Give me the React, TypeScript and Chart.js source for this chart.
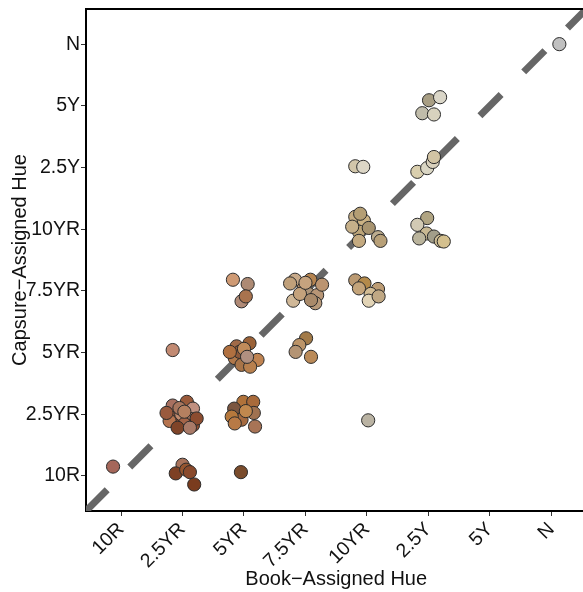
import React, { useEffect, useRef } from 'react';
import { Chart, registerables } from 'chart.js';

Chart.register(...registerables);

const hueLabels = ['10R', '2.5YR', '5YR', '7.5YR', '10YR', '2.5Y', '5Y', 'N'];

// Book-assigned hue (category index, jittered)
const bookHue = [
  -0.13,
  0.84,
  0.84, 1.07, 1.17, 0.82, 0.90, 1.14, 1.17, 0.98, 1.03, 0.79, 1.23, 0.95, 0.74, 1.03, 0.92, 1.12,
  1.00, 0.89, 1.06, 1.12, 1.19,
  1.82, 2.06, 1.96, 2.03,
  1.88, 2.09, 2.22, 1.85, 1.96, 2.10, 1.93, 1.77, 2.00, 2.05,
  1.99, 1.84, 2.15, 2.16, 1.96, 2.18, 1.80, 1.85, 2.03,
  1.95,
  2.83, 3.08, 2.75, 2.97, 3.05, 3.19, 2.80, 3.16, 2.91, 3.27, 3.00, 3.09,
  3.01, 2.90, 2.84, 3.09,
  3.81, 3.94,
  3.81, 3.95, 3.87, 3.87, 4.18, 4.22, 4.03, 3.76, 3.89,
  3.81, 3.96, 4.18, 4.06, 4.03, 4.19, 3.87,
  4.02,
  5.01, 5.19, 4.90, 5.09,
  4.82, 4.98, 5.07, 5.09,
  4.98, 4.82, 4.97, 4.85, 5.09, 5.20, 5.25,
  7.13,
];

// Capture-assigned hue (category index, jittered)
const captureHue = [
  0.15,
  2.04,
  1.14, 1.20, 1.09, 0.94, 0.87, 0.92, 0.82, 1.00, 0.84, 0.89, 0.93, 1.10, 1.02, 1.04, 0.78, 0.78,
  0.18, 0.04, 0.10, 0.06, -0.14,
  3.18, 3.11, 2.83, 2.91,
  2.10, 2.15, 1.88, 1.91, 1.80, 1.77, 2.01, 2.01, 2.06, 1.93,
  1.20, 1.09, 1.20, 1.02, 0.91, 0.80, 0.96, 0.85, 1.05,
  0.06,
  3.18, 3.18, 3.12, 3.04, 2.95, 2.93, 2.84, 2.80, 2.95, 3.10, 3.13, 2.85,
  2.23, 2.12, 2.01, 1.93,
  5.02, 5.01,
  4.20, 4.14, 3.96, 3.81, 3.87, 3.81, 4.02, 4.04, 4.25,
  3.17, 3.12, 3.03, 2.95, 2.84, 2.91, 3.04,
  0.90,
  6.09, 6.14, 5.88, 5.86,
  4.93, 4.99, 5.09, 5.17,
  4.18, 4.07, 3.93, 3.85, 3.88, 3.81, 3.80,
  7.00,
];

// Munsell swatch colour of each sample
const munsellColor = [
  '#a5675a',
  '#c28a72',
  '#a87060', '#9a5a3a', '#c09080', '#a35d3c', '#8a4a2e', '#b07a62', '#8f4f33', '#c08a6e', '#a46448', '#b6744f', '#8c4c30', '#a8765e', '#9a5a3e', '#b58060', '#7f4428', '#a97a68',
  '#a8725a', '#7e4024', '#96552f', '#8a4a2c', '#7a3c1e',
  '#cf9a74', '#ad8a74', '#b08a76', '#a9734e',
  '#a06a48', '#9b6238', '#c08452', '#b0784a', '#a87448', '#b8804e', '#8f5a3a', '#b07040', '#c08b5a', '#b09080',
  '#b0723a', '#7b5640', '#a86a3a', '#a07250', '#a56a40', '#a87456', '#b5783c', '#b87a46', '#c0884e',
  '#7a4c2c',
  '#c8aa8a', '#b58450', '#c0a07a', '#b89068', '#ad9478', '#b89676', '#d0b898', '#b89a7a', '#c4a27c', '#bb9470', '#c6a37e', '#a98a6a',
  '#a27a48', '#bc9468', '#b49474', '#ba8a58',
  '#d2c6aa', '#dcd6c6',
  '#c4ac82', '#cbb284', '#bca478', '#c4aa80', '#bcac8e', '#b8a078', '#a89470', '#c6b08a', '#b49e74',
  '#bb9a72', '#b48a4a', '#bc9c74', '#d2bc94', '#e2d4b6', '#c0a884', '#c4a47a',
  '#bab3a3',
  '#a89e84', '#dad6c8', '#c0bcaa', '#d8d2be',
  '#dacfae', '#dad6c4', '#d8d0bc', '#d2c4a4',
  '#b0a482', '#d2cab4', '#c8b892', '#bab49c', '#a29e8a', '#ccbc94', '#d4c08e',
  '#c0c0c0',
];

const axisRange = [-0.57, 7.57];

const FONT = '"Liberation Sans", Arial, Helvetica, sans-serif';

const topFrame = {
  id: 'topFrame',
  afterDraw(chart: any) {
    const { ctx, chartArea } = chart;
    ctx.save();
    ctx.strokeStyle = '#000';
    ctx.lineWidth = 2;
    ctx.beginPath();
    ctx.moveTo(chartArea.left - 1, chartArea.top);
    ctx.lineTo(chartArea.right, chartArea.top);
    ctx.lineTo(chartArea.right, chartArea.bottom);
    ctx.stroke();
    ctx.restore();
  },
};

export default function App() {
  const ref = useRef<HTMLCanvasElement>(null);

  useEffect(() => {
    const canvas = ref.current;
    if (!canvas) return;
    const points = bookHue.map((x, i) => ({ x, y: captureHue[i] }));
    const line = axisRange.map((v) => ({ x: v, y: v }));
    const tickFont = { family: FONT, size: 19.5 };
    const titleFont = { family: FONT, size: 20 };
    const buildTicks = (s: any) => {
      s.ticks = hueLabels.map((_, i) => ({ value: i }));
    };
    const chart = new Chart(canvas, {
      type: 'scatter',
      data: {
        datasets: [
          {
            type: 'scatter',
            data: points,
            backgroundColor: munsellColor,
            borderColor: '#2b2b2b',
            borderWidth: 1,
            pointRadius: 6.6,
            pointHoverRadius: 6.6,
            order: 1,
          } as any,
          {
            type: 'line',
            data: line,
            borderColor: '#666666',
            borderWidth: 7,
            borderDash: [30, 32],
            borderCapStyle: 'butt',
            pointRadius: 0,
            fill: false,
            clip: 0,
            order: 2,
          } as any,
        ],
      },
      options: {
        responsive: false,
        animation: false,
        layout: { padding: { top: 9, right: 5, left: 0, bottom: 0 } },
        plugins: {
          legend: { display: false },
          tooltip: { enabled: false },
        },
        scales: {
          x: {
            type: 'linear',
            min: axisRange[0],
            max: axisRange[1],
            afterBuildTicks: buildTicks,
            afterFit: (s: any) => {
              s.height = 81;
              s.paddingLeft = 0;
              s.paddingRight = 0;
            },
            ticks: {
              callback: (v: any) => hueLabels[Math.round(Number(v))],
              minRotation: 45,
              maxRotation: 45,
              font: tickFont,
              color: '#111',
              padding: 2,
            },
            grid: { drawOnChartArea: false, drawTicks: true, tickLength: 5, color: '#333' },
            border: { display: true, color: '#000', width: 2 },
            title: {
              display: true,
              text: 'Book−Assigned Hue',
              font: titleFont,
              color: '#111',
              padding: { top: 0, bottom: 1 },
            },
          },
          y: {
            type: 'linear',
            min: axisRange[0],
            max: axisRange[1],
            afterBuildTicks: buildTicks,
            afterFit: (s: any) => {
              s.width = 86;
              s.paddingTop = 0;
              s.paddingBottom = 0;
            },
            ticks: {
              callback: (v: any) => hueLabels[Math.round(Number(v))],
              font: tickFont,
              color: '#111',
              padding: 1,
            },
            grid: { drawOnChartArea: false, drawTicks: true, tickLength: 5, color: '#333' },
            border: { display: true, color: '#000', width: 2 },
            title: {
              display: true,
              text: 'Capsure−Assigned Hue',
              font: titleFont,
              color: '#111',
              padding: { top: 8, bottom: 0 },
            },
          },
        },
      } as any,
      plugins: [topFrame],
    });
    return () => chart.destroy();
  }, []);

  return (
    <div
      style={{
        position: 'absolute',
        left: 0,
        top: 0,
        width: 583,
        height: 592,
        overflow: 'hidden',
        background: '#fff',
      }}
    >
      <canvas ref={ref} width={594} height={592} style={{ display: 'block' }} />
    </div>
  );
}
